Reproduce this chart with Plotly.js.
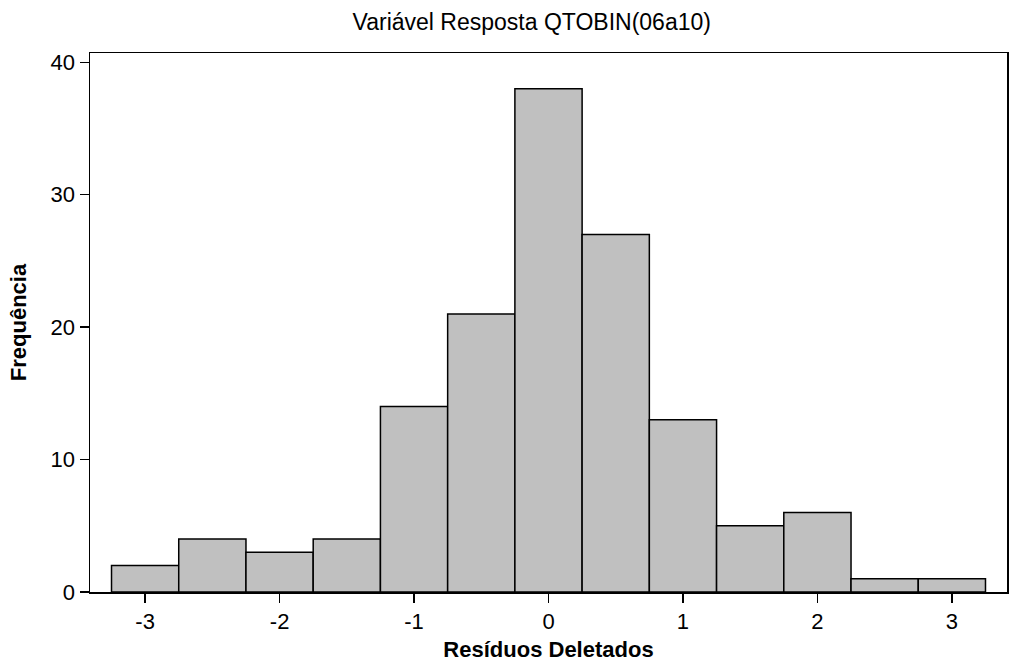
<!DOCTYPE html>
<html>
<head>
<meta charset="utf-8">
<script src="https://cdn.plot.ly/plotly-3.0.1.min.js"></script>
<style>html,body{margin:0;padding:0;background:#fff;}#chart{width:1009px;height:666px;}</style>
</head>
<body>
<div id="chart"></div>
<script>
const binCenters = [-3, -2.5, -2, -1.5, -1, -0.5, 0, 0.5, 1, 1.5, 2, 2.5, 3];
const frequencies = [2, 4, 3, 4, 14, 21, 38, 27, 13, 5, 6, 1, 1];
const xTickVals = [-3, -2, -1, 0, 1, 2, 3];
const xTickText = ['-3', '-2', '-1', '0', '1', '2', '3'];
const yTickVals = [0, 10, 20, 30, 40];
const binWidth = 0.5;

const font = 'Liberation Sans, Arial, sans-serif';

const trace = {
  type: 'bar',
  x: binCenters,
  y: frequencies,
  width: binCenters.map(() => binWidth),
  marker: {color: '#C0C0C0', line: {color: '#000000', width: 1.5}},
  hoverinfo: 'x+y'
};

const layout = {
  width: 1009,
  height: 666,
  margin: {l: 90, r: 2, t: 53, b: 74},
  paper_bgcolor: '#ffffff',
  plot_bgcolor: '#ffffff',
  showlegend: false,
  font: {family: font, color: '#000000', size: 20},
  title: {
    text: 'Variável Resposta QTOBIN(06a10)',
    font: {family: font, size: 23, color: '#000000'},
    x: 0.527, xref: 'container', xanchor: 'center',
    y: 0.967, yref: 'container', yanchor: 'middle'
  },
  xaxis: {
    range: [-3.41, 3.41],
    tickmode: 'array', tickvals: xTickVals, ticktext: xTickText,
    ticks: 'outside', ticklen: 9, tickwidth: 1.5, tickcolor: '#000',
    tickfont: {family: font, size: 22, color: '#000'},
    showline: true, mirror: true, linecolor: '#000', linewidth: 1.5,
    showgrid: false, zeroline: false,
    title: {text: '<b>Resíduos Deletados</b>', font: {family: font, size: 22, color: '#000'}, standoff: 8}
  },
  yaxis: {
    range: [0, 40.7],
    tickmode: 'array', tickvals: yTickVals,
    ticks: 'outside', ticklen: 9, tickwidth: 1.5, tickcolor: '#000',
    tickfont: {family: font, size: 22, color: '#000'},
    showline: true, mirror: true, linecolor: '#000', linewidth: 1.5,
    showgrid: false, zeroline: false,
    title: {text: '<b>Frequência</b>', font: {family: font, size: 22, color: '#000'}, standoff: 18}
  },
  bargap: 0
};

Plotly.newPlot('chart', [trace], layout, {displayModeBar: false, staticPlot: true});
</script>
</body>
</html>
